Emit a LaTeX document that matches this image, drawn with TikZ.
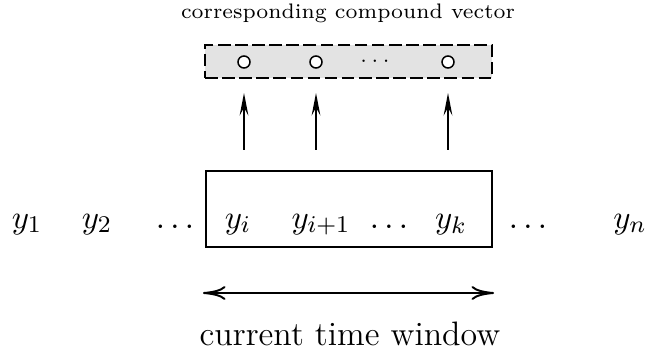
\documentclass[tikz,border=0pt]{standalone}
\usetikzlibrary{arrows.meta,fit}
\begin{document}
\begin{tikzpicture}[x=0.3333pt,y=-0.3333pt,
  lbl/.style={anchor=base,inner sep=0pt,font=\fontsize{11}{13}\selectfont},
  small/.style={anchor=base,inner sep=0pt,font=\scriptsize},
  vecbox/.style={draw,dashed,dash pattern=on 4.2pt off 1.5pt,fill=black!11,line width=0.6pt,inner sep=0pt},
  winbox/.style={draw,line width=0.65pt,inner sep=0pt},
  circ/.style={draw,circle,minimum size=4pt,inner sep=0pt,line width=0.5pt,fill=white},
  uparrow/.style={line width=0.6pt,-{Stealth[length=7.5pt,width=2.9pt,inset=2.6pt]}},
  span/.style={line width=0.65pt,{Computer Modern Rightarrow[length=7.5pt,width=4.6pt]}-{Computer Modern Rightarrow[length=7.5pt,width=4.6pt]}}
]
\useasboundingbox (0,0) rectangle (650,352);
% top label
\node[small] (title) at (348,19) {corresponding compound vector};
% compound vector box
\node[vecbox,fit={(205,45) (492,78)}] (vec) {};
\node[circ] (c1) at (244,62) {};
\node[circ] (c2) at (316,62) {};
\node[small,anchor=center] (cd) at (375,62) {$\cdots$};
\node[circ] (c3) at (448,62) {};
% window box
\node[winbox,fit={(206,171) (492,247)}] (win) {};
% sequence labels
\node[lbl] (y1) at (27,228) {$y_1$};
\node[lbl] (y2) at (97,228) {$y_2$};
\node[lbl] (d1) at (175,228) {$\ldots$};
\node[lbl] (yi) at (238,228) {$y_i$};
\node[lbl] (yi1) at (321,228) {$y_{i+1}$};
\node[lbl] (d2) at (389,228) {$\ldots$};
\node[lbl] (yk) at (451,228) {$y_k$};
\node[lbl] (d3) at (528,228) {$\ldots$};
\node[lbl] (yn) at (630,228) {$y_n$};
% up arrows
\draw[uparrow,shorten <=6.7pt,shorten >=4.7pt] (c1 |- win.north) -- (c1 |- vec.south);
\draw[uparrow,shorten <=6.7pt,shorten >=4.7pt] (c2 |- win.north) -- (c2 |- vec.south);
\draw[uparrow,shorten <=6.7pt,shorten >=4.7pt] (c3 |- win.north) -- (c3 |- vec.south);
% time window span
\coordinate (wl) at (203,293);
\coordinate (wr) at (494,293);
\draw[span] (wl) -- (wr);
\node[lbl,font=\fontsize{11.3}{13}\selectfont] (cap) at (350,345) {current time window};
\end{tikzpicture}
\end{document}
